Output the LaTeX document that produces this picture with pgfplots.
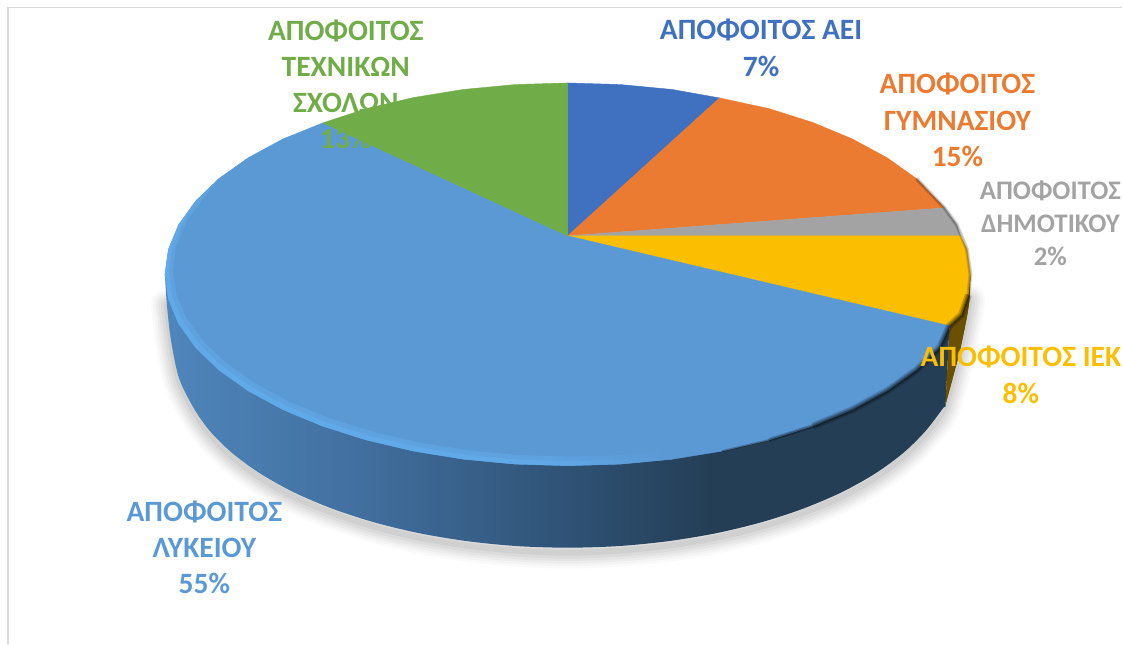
\documentclass[border=0pt]{standalone}
\usepackage{fontspec}
\setmainfont{Carlito}
\usepackage{pgfplots}
\pgfplotsset{compat=1.18}
\definecolor{cBlue}{HTML}{4070C0}
\definecolor{cOrange}{HTML}{EA7B31}
\definecolor{cGray}{HTML}{A3A3A3}
\definecolor{cYellow}{HTML}{FBBE00}
\definecolor{cLight}{HTML}{5B99D5}
\definecolor{cGreen}{HTML}{70AC47}
\definecolor{cBrown}{HTML}{6B5000}
\definecolor{cDark}{HTML}{243E55}
\definecolor{sA}{HTML}{4F86BC}
\definecolor{sB}{HTML}{4270A0}
\definecolor{sC}{HTML}{305478}
\definecolor{rA}{HTML}{62AEEE}
\pgfdeclarehorizontalshading{sideshade}{100bp}{
 color(0bp)=(sA);
 color(25bp)=(sA);
 color(37bp)=(sB);
 color(50bp)=(sC);
 color(60bp)=(cDark);
 color(100bp)=(cDark)}
\pgfdeclarehorizontalshading{rimshade}{100bp}{
 color(0bp)=(rA);
 color(25bp)=(rA);
 color(62bp)=(rA);
 color(75bp)=(cLight);
 color(100bp)=(cLight)}
\begin{document}
\begin{tikzpicture}
\begin{axis}[
  scale only axis, width=1123pt, height=644pt,
  xmin=0, xmax=1123, ymin=0, ymax=644, y dir=reverse,
  axis lines=none, clip=false,
]
% picture frame
\addplot[draw=none, forget plot] coordinates {(0,0)(1123,0)(1123,644)(0,644)} --cycle;
\addplot[color=black!14, line width=2.3pt, forget plot] coordinates {(7.8,644)(7.8,7)};
\addplot[color=black!15, line width=1.3pt, forget plot] coordinates {(7,7.3)(1123,7.3)};
% drop shadow under the side
\foreach \w/\o in {32/0.02,27/0.025,22/0.03,17/0.035,12/0.04,6/0.05}{
\edef\tmp{\noexpand\addplot[smooth, black, opacity=\o, line width=\w pt, line cap=round, forget plot] coordinates {
 (167,305)(171,340)(179,380)(193.2,410)(209.5,434)(232,457)(260.2,478)(293.6,497)(331.8,513)(374,527)(419.5,538)(467.6,546)(517.4,551)(568,553)(618.6,551)(668.4,546)(716.5,538)(762,527)(804.2,513)(842.4,497)(875.8,478)(904,457)(926.5,434)(945,408)(960,353)(967.5,317)(970,300)};}
\tmp
}
% side: base under the right end
\addplot[fill=cDark, draw=none, forget plot] coordinates {(946,407)(950,326)(840,400)(840,440)} --cycle;
% side of the large slice
\addplot[smooth, draw=none, shading=sideshade, forget plot] coordinates {
 (165,274.5)(167,305)(171,340)(179,378)(193.2,407.2)(209.5,430.7)(232,453)(260.2,473.7)(293.6,492.4)(331.8,508.7)(374,522.5)(419.5,533.5)(467.6,541.5)(517.4,546.4)(568,548)(618.6,546.4)(668.4,541.5)(716.5,533.5)(762,522.5)(804.2,508.7)(842.4,492.4)(875.8,473.7)(904,453)(926.5,430.7)(946,405)} --cycle;
% side of the IEK slice
\addplot[fill=cBrown, draw=none, forget plot] coordinates {
 (971,274.5)(950,326)(946,405)(960,353)(967.5,317)(970,300)} --cycle;
\addplot[smooth, fill=cBrown, draw=none, forget plot] coordinates {
 (971,274.5)(970,300)(967.5,317)(960,353)(946,405)} --cycle;
% top face
\addplot[fill=cBlue, draw=cBlue, line width=0.4pt, forget plot] coordinates {
 (568,236)(568,83)(620.6,84.6)(672.3,89.5)(720,98)} --cycle;
\addplot[fill=cOrange, draw=cOrange, line width=0.4pt, forget plot] coordinates {
 (568,236)(720,98)(769.5,108.7)(813.3,122.6)(853,139.1)(887.7,157.9)(917,178.7)(945,208)} --cycle;
\addplot[fill=cGray, draw=cGray, line width=0.4pt, forget plot] coordinates {
 (568,236)(945,208)(957.3,224.9)(961,236)} --cycle;
\addplot[fill=cYellow, draw=cYellow, line width=0.4pt, forget plot] coordinates {
 (568,236)(961,236)(967.5,249.5)(971,274.5)(969,295)(962,315)(950,326)} --cycle;
\addplot[fill=cLight, draw=cLight, line width=0.4pt, forget plot] coordinates {
 (568,236)(950,326)(940.3,347.8)(917,370.3)(887.7,391.1)(853,409.9)(813.3,426.4)(769.5,440.3)(722.2,451.4)(672.3,459.5)(620.6,464.4)(568,466)
 (515.4,464.4)(463.7,459.5)(413.8,451.4)(366.5,440.3)(322.7,426.4)(283,409.9)(248.3,391.1)(219,370.3)(195.7,347.8)(178.7,324.1)(168.5,299.5)(165,274.5)
 (168.5,249.5)(178.7,224.9)(195.7,201.2)(219,178.7)(248.3,157.9)(283,139.1)(323,123)} --cycle;
\addplot[fill=cGreen, draw=cGreen, line width=0.4pt, forget plot] coordinates {
 (568,236)(323,123)(366.5,108.7)(413.8,97.6)(463.7,89.5)(515.4,84.6)(568,83)} --cycle;
% bevel, wide and faint
\addplot[draw=none, shading=rimshade, opacity=0.45, forget plot] coordinates {
 (672.3,459.5)(620.6,464.4)(568,466)(515.4,464.4)(463.7,459.5)(413.8,451.4)(366.5,440.3)(322.7,426.4)(283,409.9)(248.3,391.1)(219,370.3)(195.7,347.8)(178.7,324.1)(168.5,299.5)(165,274.5)(168.5,249.5)(178.7,224.9)(195.7,201.2)(219,178.7)
 (203.4,198.4)(186.6,221.6)(176.4,245.6)(173,270)(176.4,294.4)(186.6,318.4)(203.4,341.6)(226.5,363.5)(255.4,383.8)(289.9,402.2)(329.1,418.4)(372.5,431.9)(419.3,442.8)(468.7,450.6)(519.9,455.4)(572,457)(624.1,455.4)(675.3,450.6)} --cycle;
% bevel, narrow and bright
\addplot[draw=none, shading=rimshade, opacity=0.7, forget plot] coordinates {
 (672.3,459.5)(620.6,464.4)(568,466)(515.4,464.4)(463.7,459.5)(413.8,451.4)(366.5,440.3)(322.7,426.4)(283,409.9)(248.3,391.1)(219,370.3)(195.7,347.8)(178.7,324.1)(168.5,299.5)(165,274.5)(168.5,249.5)(178.7,224.9)(195.7,201.2)
 (182.6,223.2)(172.4,247.5)(169,272.2)(172.4,297)(182.6,321.2)(199.5,344.7)(222.7,366.9)(251.8,387.4)(286.4,406)(325.9,422.4)(369.5,436.1)(416.5,447.1)(466.2,455)(517.6,459.9)(570,461.5)(622.3,459.9)(673.8,455)} --cycle;
% dark edge on the right and lower right
\addplot[black, opacity=0.25, line width=2pt, forget plot] coordinates {
 (969,295)(962,315)(950,326)(940.3,347.8)(917,370.3)(887.7,391.1)(853,409.9)(813.3,426.4)(769.5,440.3)(722.2,451.4)};
\addplot[black, opacity=0.22, line width=4pt, forget plot] coordinates {
 (969,295)(962,315)(950,326)(940.3,347.8)(917,370.3)(887.7,391.1)(853,409.9)(813.3,426.4)(769.5,440.3)};
\addplot[black, opacity=0.2, line width=7pt, forget plot] coordinates {
 (969,295)(962,315)(950,326)(940.3,347.8)(917,370.3)(887.7,391.1)(853,409.9)(813.3,426.4)};
\foreach \w in {2,4}{
\edef\tmp{\noexpand\addplot[black, opacity=0.15, line width=\w pt, forget plot] coordinates {
 (917,178.7)(945,208)(957.3,224.9)(967.5,249.5)(971,274.5)(969,295)};}
\tmp
}
% labels
\node[cBlue, inner sep=0pt, align=center, font=\bfseries\fontsize{29.5}{37}\selectfont] at (axis cs:761.5,48) {ΑΠΟΦΟΙΤΟΣ ΑΕΙ\\7\%};
\node[cOrange, inner sep=0pt, align=center, font=\bfseries\fontsize{29.5}{36.5}\selectfont] at (axis cs:958,120) {ΑΠΟΦΟΙΤΟΣ\\ΓΥΜΝΑΣΙΟΥ\\15\%};
\node[cGray, inner sep=0pt, align=center, font=\bfseries\fontsize{26.8}{33}\selectfont] at (axis cs:1051,223) {ΑΠΟΦΟΙΤΟΣ\\ΔΗΜΟΤΙΚΟΥ\\2\%};
\node[cYellow, inner sep=0pt, align=center, font=\bfseries\fontsize{29.5}{36.5}\selectfont] at (axis cs:1021.5,375) {ΑΠΟΦΟΙΤΟΣ ΙΕΚ\\8\%};
\node[cGreen, inner sep=0pt, align=center, font=\bfseries\fontsize{29.5}{36}\selectfont] at (axis cs:346,84) {ΑΠΟΦΟΙΤΟΣ\\ΤΕΧΝΙΚΩΝ\\ΣΧΟΛΩΝ\\13\%};
\node[cLight, inner sep=0pt, align=center, font=\bfseries\fontsize{29.5}{36}\selectfont] at (axis cs:204.5,548) {ΑΠΟΦΟΙΤΟΣ\\ΛΥΚΕΙΟΥ\\55\%};
\end{axis}
\end{tikzpicture}
\end{document}
